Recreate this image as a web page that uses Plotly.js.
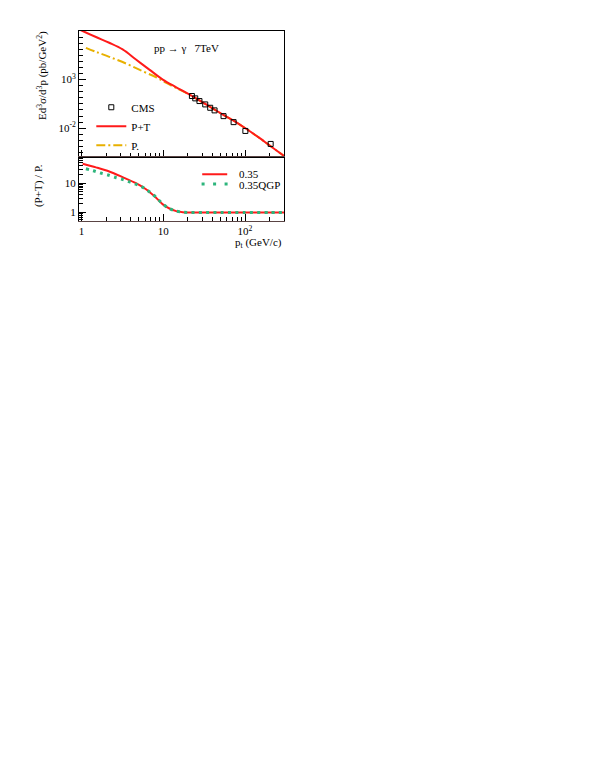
<!DOCTYPE html>
<html>
<head>
<meta charset="utf-8">
<script src="https://cdn.plot.ly/plotly-3.0.1.min.js"></script>
<style>
  body { margin: 0; background: #fff; }
  #graph { width: 595px; height: 770px; }
</style>
</head>
<body>
<div id="graph"></div>
<script>
// top panel: invariant cross section
var ptTop = [0.93, 1.03, 1.5, 2.18, 3.18, 4.63, 6.75, 9.86, 14.4, 20, 30, 50, 75, 100, 150, 200, 300]
var xsPT = [1.5e8, 1.0e8, 2.4e7, 6.2e6, 1.26e6, 1.15e5, 1.07e4, 1.0e3, 162, 35.5, 4.8, 0.355, 0.050, 0.0105, 1.0e-3, 1.66e-4, 1.41e-5]

var ptP = [1.13, 1.5, 2.18, 3.5, 5.6, 8.17, 10.9, 14.4, 20, 30, 50, 75, 100, 150, 200, 300]
var xsP = [1.86e6, 7.2e5, 2.2e5, 4.5e4, 7.2e3, 1.74e3, 447, 138, 34, 4.8, 0.355, 0.050, 0.0105, 1.0e-3, 1.66e-4, 1.41e-5]

var cmsPt = [22.4, 24.6, 27.7, 32.6, 37.5, 42.4, 54.6, 72.5, 101, 206]
var cmsXs = [20.4, 11.7, 6.2, 2.8, 1.26, 0.68, 0.174, 0.042, 0.0052, 2.4e-4]

// bottom panel: ratio (P+T)/P.
var ptRatio = [1.03, 1.5, 2.18, 3.18, 4.63, 6.15, 8.16, 9.86, 11.9, 14.4, 17.3, 20, 30, 50, 100, 200, 300]
var ratio035 = [46, 34.5, 25.1, 16.1, 10, 6.2, 3.19, 1.89, 1.37, 1.11, 1.02, 1.0, 1.0, 1.0, 1.0, 1.0, 1.0]

var ptQgp = [1.13, 1.39, 1.71, 2.12, 2.61, 3.21, 3.95, 4.86, 5.86, 6.89, 8.16, 9.4, 11.4, 13.9, 17.3, 20, 30, 50, 100, 200, 300]
var ratioQgp = [31, 26.5, 22.1, 18.9, 15.6, 13.3, 10.8, 8.7, 6.7, 4.9, 3.29, 2.21, 1.44, 1.14, 1.02, 1.0, 1.0, 1.0, 1.0, 1.0, 1.0]

// ticks
var xTickVals = [1, 10, 100]
var xTickText = ['1', '10', '10<sup>2</sup>']
var xMinor = [2, 3, 4, 5, 6, 7, 8, 9, 20, 30, 40, 50, 60, 70, 80, 90, 200, 300]
var yTopTickVals = [1e-2, 1e3]
var yTopTickText = ['10<sup>-2</sup>', '10<sup>3</sup>']
var yBotTickVals = [1, 10]
var yBotTickText = ['1', '10']
var yBotMinor = [0.6, 0.7, 0.8, 0.9, 2, 3, 4, 5, 6, 7, 8, 9, 20, 30, 40, 50, 60, 70]

var yTopMinor = []
for (var k = -12; k <= 7; k++) {
  if (k === 0 || k === -8) continue
  yTopMinor.push(Math.pow(10, 3 + 0.625 * k))
}

var serif = 'Liberation Serif, Times New Roman, serif'
var red = '#ff1a1a'
var orange = '#e8b000'
var green = '#2db57c'

var data = [
  {
    x: ptP, y: xsP, xaxis: 'x', yaxis: 'y',
    mode: 'lines', name: 'P.', legendrank: 3,
    line: { color: orange, width: 2, dash: '9px,3px,2px,3px', shape: 'spline' }
  },
  {
    x: ptTop, y: xsPT, xaxis: 'x', yaxis: 'y',
    mode: 'lines', name: 'P+T', legendrank: 2,
    line: { color: red, width: 2, shape: 'spline' }
  },
  {
    x: cmsPt, y: cmsXs, xaxis: 'x', yaxis: 'y',
    mode: 'markers', name: 'CMS', legendrank: 1,
    marker: { symbol: 'square-open', size: 5, color: '#000', line: { width: 1, color: '#000' } }
  },
  {
    x: ptRatio, y: ratio035, xaxis: 'x2', yaxis: 'y2',
    mode: 'lines', name: '0.35', showlegend: false,
    line: { color: red, width: 2, shape: 'spline', smoothing: 0.8 }
  },
  {
    x: ptQgp, y: ratioQgp, xaxis: 'x2', yaxis: 'y2',
    mode: 'lines', name: '0.35QGP', showlegend: false,
    line: { color: green, width: 3, dash: '3px,4.3px', shape: 'spline', smoothing: 0.8 }
  }
]

var xRange = [Math.log10(0.93), Math.log10(300)]

var baseAxis = {
  showline: true, mirror: true, linecolor: '#000', linewidth: 1,
  showgrid: false, zeroline: false,
  ticks: 'inside', tickcolor: '#000',
  tickfont: { family: serif, size: 11, color: '#000' }
}

function note (x, y, text, extra) {
  return Object.assign({
    xref: 'paper', yref: 'paper', x: x, y: y, text: text, showarrow: false,
    xanchor: 'center', yanchor: 'middle',
    font: { family: serif, size: 11, color: '#000' }
  }, extra || {})
}

var layout = {
  width: 595,
  height: 770,
  margin: { l: 79, r: 311, t: 31, b: 549 },
  paper_bgcolor: '#fff',
  plot_bgcolor: '#fff',
  font: { family: serif, size: 11, color: '#000' },
  showlegend: true,
  legend: {
    x: 0.06, y: 0.675, xanchor: 'left', yanchor: 'top',
    bgcolor: 'rgba(0,0,0,0)', itemwidth: 30,
    font: { family: serif, size: 11, color: '#000' }
  },
  xaxis: Object.assign({}, baseAxis, {
    type: 'log', range: xRange, anchor: 'y',
    tickmode: 'array', tickvals: xTickVals, ticktext: xTickText,
    showticklabels: false, ticklen: 7,
    minor: { tickmode: 'array', tickvals: xMinor, ticks: 'inside', ticklen: 4, tickcolor: '#000' }
  }),
  yaxis: Object.assign({}, baseAxis, {
    type: 'log', range: [-5, 8], domain: [0.335, 1], anchor: 'x',
    tickmode: 'array', tickvals: yTopTickVals, ticktext: yTopTickText, ticklen: 7,
    minor: { tickmode: 'array', tickvals: yTopMinor, ticks: 'inside', ticklen: 4, tickcolor: '#000' }
  }),
  xaxis2: Object.assign({}, baseAxis, {
    type: 'log', range: xRange, anchor: 'y2', matches: 'x',
    tickmode: 'array', tickvals: xTickVals, ticktext: xTickText, ticklen: 7,
    linecolor: '#5a4444',
    minor: { tickmode: 'array', tickvals: xMinor, ticks: 'inside', ticklen: 4, tickcolor: '#000' }
  }),
  yaxis2: Object.assign({}, baseAxis, {
    type: 'log', range: [-0.29, 1.88], domain: [0, 0.335], anchor: 'x2',
    tickmode: 'array', tickvals: yBotTickVals, ticktext: yBotTickText, ticklen: 7,
    minor: { tickmode: 'array', tickvals: yBotMinor, ticks: 'inside', ticklen: 4, tickcolor: '#000' }
  }),
  annotations: [
    note(0.523, 0.912, 'pp \u2192 \u03b3 &nbsp; 7TeV'),
    note(-0.181, 0.768, 'Ed<sup>3</sup>\u03c3/d<sup>3</sup>p (pb/GeV<sup>2</sup>)', { textangle: -90 }),
    note(-0.2, 0.184, '(P+T) / P.', { textangle: -90 }),
    note(1, -0.114, 'p<sub>t</sub> (GeV/c)', { xanchor: 'right' }),
    // bottom legend labels
    note(0.772, 0.25, '0.35', { xanchor: 'left' }),
    note(0.772, 0.192, '0.35QGP', { xanchor: 'left' })
  ],
  shapes: [
    // bottom legend keys
    {
      type: 'line', xref: 'paper', yref: 'paper', x0: 0.601, x1: 0.723, y0: 0.246, y1: 0.246,
      line: { color: red, width: 2 }
    },
    {
      type: 'line', xref: 'paper', yref: 'paper', x0: 0.598, x1: 0.735, y0: 0.195, y1: 0.195,
      line: { color: green, width: 3, dash: '3px,8.5px' }
    }
  ]
}

Plotly.newPlot('graph', data, layout, { displayModeBar: false, staticPlot: true })
</script>
</body>
</html>
